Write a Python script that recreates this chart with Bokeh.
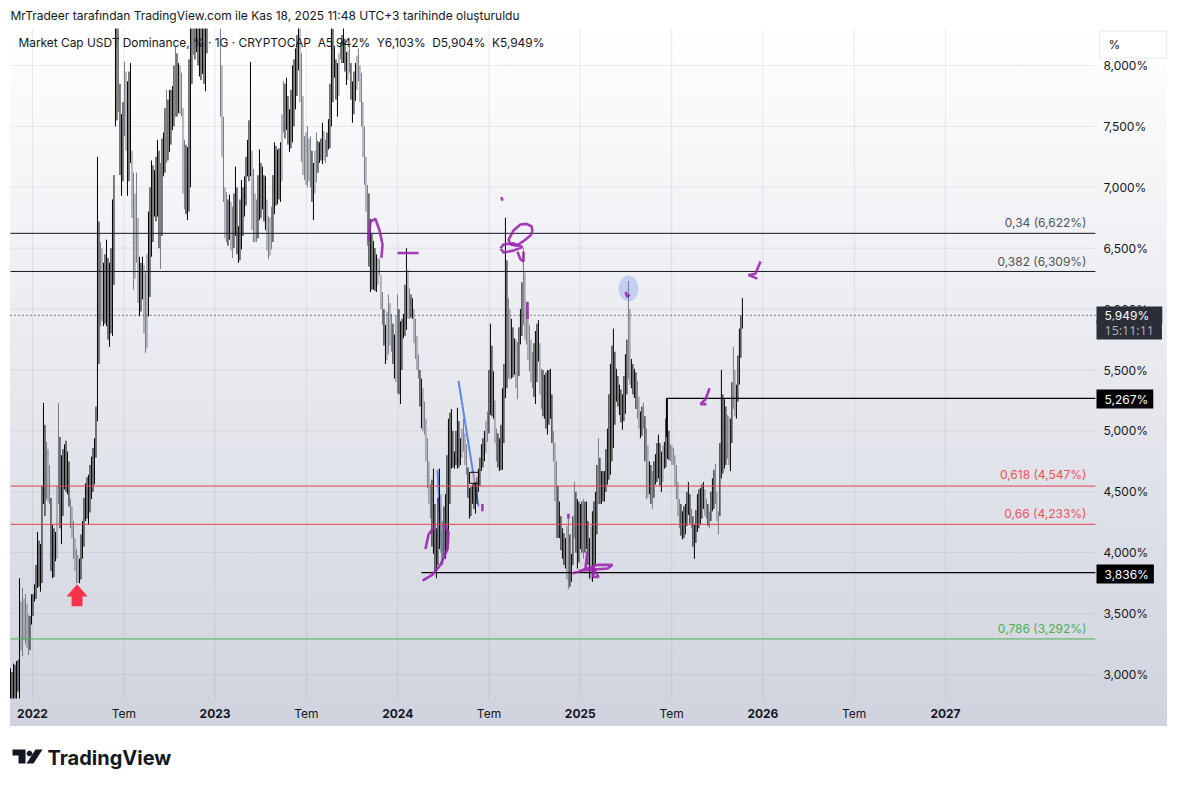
from bokeh.embed import file_html
from bokeh.resources import INLINE
from bokeh.plotting import figure
from bokeh.models import (ColumnDataSource, FixedTicker, Label, LinearAxis, PolyAnnotation, Range1d)

created = "MrTradeer tarafından TradingView.com ile Kas 18, 2025 11:48 UTC+3 tarihinde oluşturuldu"
legend = "Market Cap USDT Dominance, % · 1G · CRYPTOCAP\u00a0\u00a0A5,942%\u00a0\u00a0Y6,103%\u00a0\u00a0D5,904%\u00a0\u00a0K5,949%"

first_bar_year = 2021.8795
bar_step_days = 6
highs = [
 3.05,3.09,3.11,3.79,3.71,3.66,3.49,3.66,3.74,4.17,
 4.07,5.23,4.91,4.72,4.23,4.17,5.23,4.80,4.89,4.83,
 4.44,4.26,4.03,3.95,4.26,4.57,4.64,4.79,4.94,7.25,
 6.55,6.38,6.57,6.38,6.90,8.32,8.32,7.60,8.03,7.87,
 8.02,7.12,7.12,6.43,6.43,6.30,6.80,7.22,7.14,7.39,
 7.20,7.45,7.80,7.80,7.83,8.16,8.02,7.94,7.39,7.33,
 8.32,8.32,8.32,8.32,8.32,8.32,8.42,8.48,8.55,8.50,
 8.32,7.58,6.96,6.94,6.84,7.17,6.68,7.06,7.09,7.39,
 8.03,7.15,6.90,7.31,7.17,7.09,6.76,6.84,7.37,7.31,
 7.37,7.87,7.90,7.64,8.00,8.14,8.32,8.10,7.42,7.50,
 7.42,7.20,7.45,7.37,7.53,7.39,7.56,8.32,8.14,8.02,
 8.19,8.32,8.11,8.16,7.87,8.02,8.14,7.94,7.50,7.02,
 6.74,6.56,6.45,6.41,6.14,5.87,6.12,5.96,5.79,6.12,
 5.90,5.96,6.50,6.17,6.09,5.92,5.63,5.43,5.24,4.94,
 4.56,4.69,4.20,4.69,4.26,4.48,5.10,5.18,4.83,5.19,
 4.94,5.10,4.89,4.53,4.56,4.58,4.69,4.89,5.00,5.16,
 5.88,5.49,5.02,4.94,5.35,6.75,6.09,5.92,5.76,5.73,
 6.00,6.50,6.06,5.87,5.65,5.82,5.91,5.51,5.46,5.50,
 5.51,5.00,4.75,4.42,4.20,4.12,4.31,3.99,4.58,4.44,
 4.40,4.44,4.42,4.12,4.34,4.50,4.94,4.67,4.67,5.02,
 5.55,5.84,5.51,5.38,5.30,5.63,6.23,5.59,5.51,5.41,
 5.16,5.23,5.02,4.75,4.67,4.81,4.97,4.83,4.91,5.26,
 4.89,4.86,4.72,4.44,4.34,4.40,4.58,4.36,4.23,4.48,
 4.53,4.58,4.44,4.34,4.61,4.73,4.34,5.50,5.26,5.13,
 5.10,5.69,5.38,5.84,6.09,
]
lows = [
 2.78,2.78,2.78,2.78,3.15,3.25,3.16,3.41,3.60,3.71,
 3.68,4.40,4.44,4.40,3.79,3.93,4.40,4.07,4.52,4.48,
 4.20,3.95,3.75,3.75,3.95,4.26,4.23,4.44,4.56,5.08,
 5.86,5.86,5.86,5.69,5.78,7.50,7.62,6.93,7.42,6.93,
 7.20,6.16,6.38,5.94,6.08,5.64,5.94,6.43,6.76,6.76,
 6.33,7.09,7.20,7.29,7.47,7.58,7.61,7.58,6.82,6.73,
 7.00,8.09,8.11,7.91,7.93,7.79,8.32,8.35,8.38,8.33,
 7.58,6.88,6.55,6.57,6.42,6.60,6.38,6.49,6.76,7.09,
 7.09,6.55,6.55,6.73,6.82,6.65,6.41,6.49,6.78,6.86,
 6.88,7.45,7.47,7.29,7.37,7.64,7.96,7.21,7.06,7.00,
 7.00,6.73,7.04,7.20,7.19,7.20,7.31,7.50,7.90,7.58,
 8.05,8.02,7.84,7.94,7.53,7.71,7.87,7.50,7.02,6.52,
 6.14,6.16,6.14,6.28,5.87,5.55,5.63,5.65,5.43,5.31,
 5.22,5.76,5.83,5.92,5.92,5.59,5.43,5.02,4.97,4.53,
 4.28,3.99,3.79,4.03,3.95,3.95,4.07,4.69,4.69,4.69,
 4.72,4.83,4.64,4.28,4.40,4.32,4.50,4.67,4.75,4.91,
 5.13,5.10,4.75,4.67,4.68,5.27,5.43,5.43,5.46,5.26,
 5.71,5.87,5.71,5.49,5.35,5.22,5.57,5.18,5.10,4.97,
 5.10,4.75,4.12,4.12,3.95,3.87,3.70,3.76,4.12,3.87,
 4.03,3.95,4.03,3.79,3.76,3.90,4.40,4.40,4.42,4.56,
 4.64,4.86,5.24,5.13,5.01,5.14,5.43,5.35,5.27,5.10,
 4.94,5.02,4.44,4.48,4.36,4.56,4.61,4.50,4.69,4.77,
 4.75,4.72,4.44,4.20,4.11,4.15,4.31,4.20,3.95,4.17,
 4.23,4.36,4.28,4.20,4.34,4.40,4.15,4.61,4.69,4.77,
 4.67,5.18,5.10,5.38,5.84,
]
rising = [
 1,1,1,1,0,0,0,1,1,1, 1,1,0,0,1,1,0,1,1,1, 0,0,0,1,1,1,1,1,1,1,
 0,1,1,1,1,1,0,1,0,1, 1,0,0,1,1,0,1,1,1,1, 0,1,0,1,1,0,1,0,0,1,
 1,0,1,1,1,1,1,1,1,1, 0,0,0,1,0,1,1,1,1,1, 1,0,0,1,1,1,0,0,1,1,
 1,0,1,1,1,1,1,0,0,0, 0,1,0,1,1,0,1,1,1,1, 0,1,1,0,1,1,0,0,0,0,
 1,1,1,0,0,1,0,0,1,0, 1,1,1,0,1,0,0,1,0,0, 0,1,1,1,0,1,1,1,1,1,
 1,0,0,1,1,1,1,1,1,0, 1,1,0,1,1,1,0,1,1,0, 1,0,0,0,0,1,1,0,1,1,
 1,0,0,1,1,1,0,1,0,1, 1,0,1,1,1,1,0,1,1,1, 1,1,1,1,1,1,0,1,1,0,
 1,0,0,1,0,1,1,1,1,1, 0,0,0,0,1,1,1,0,1,1, 1,1,0,0,1,0,0,1,1,0,
 1,0,1,1,1,
]
# the bars in between, three days later than the ones above
mid_highs = [
 3.02,3.08,3.12,3.60,3.62,3.58,3.48,3.66,3.90,4.10,
 4.55,5.05,4.85,4.45,4.20,4.55,4.95,4.85,4.92,4.75,
 4.38,4.12,3.98,4.15,4.45,4.62,4.72,4.86,5.20,6.72,
 6.50,6.45,6.42,6.50,7.10,8.32,7.85,7.70,7.95,7.95,
 7.30,6.95,6.75,6.38,6.36,6.45,7.00,7.18,7.25,7.30,
 7.40,7.65,7.72,7.80,8.00,8.10,8.00,7.65,7.35,8.05,
 8.32,8.32,8.32,8.32,8.32,8.32,8.45,8.50,8.50,8.45,
 8.00,7.00,6.90,6.88,6.95,7.00,6.90,7.00,7.25,7.55,
 7.30,6.95,7.10,7.20,7.10,6.90,6.75,7.10,7.34,7.32,
 7.60,7.85,7.75,7.80,8.05,8.25,8.32,7.75,7.45,7.40,
 7.30,7.30,7.38,7.40,7.46,7.45,7.85,8.30,8.05,8.10,
 8.25,8.22,8.12,8.02,7.95,8.08,8.00,7.70,7.25,6.95,
 6.62,6.50,6.42,6.28,6.00,5.98,6.05,5.88,5.95,6.00,
 5.92,6.20,6.32,6.12,6.00,5.78,5.50,5.35,5.10,4.75,
 4.60,4.40,4.45,4.48,4.38,4.80,5.15,5.00,5.00,5.08,
 5.02,4.98,4.70,4.54,4.57,4.62,4.78,4.94,5.08,5.50,
 5.70,5.25,4.98,5.05,5.55,6.40,6.00,5.85,5.75,5.85,
 6.22,6.30,5.98,5.75,5.72,5.88,5.72,5.50,5.48,5.50,
 5.30,4.90,4.55,4.30,4.16,4.22,4.15,4.30,4.50,4.42,
 4.42,4.42,4.26,4.22,4.42,4.72,4.78,4.67,4.85,5.30,
 5.70,5.65,5.45,5.34,5.45,5.75,6.00,5.55,5.48,5.28,
 5.20,5.12,4.88,4.72,4.75,4.90,4.90,4.88,5.10,5.00,
 4.88,4.80,4.58,4.40,4.38,4.50,4.48,4.30,4.35,4.52,
 4.56,4.52,4.40,4.50,4.68,4.50,4.90,5.30,5.20,5.12,
 5.40,5.50,5.62,5.95,
]
mid_lows = [
 2.78,2.78,2.86,3.20,3.28,3.22,3.20,3.48,3.62,3.72,
 3.75,4.30,4.42,3.85,3.80,3.95,4.20,4.30,4.50,4.38,
 4.12,3.85,3.75,3.78,4.05,4.28,4.33,4.50,4.78,5.55,
 5.90,5.88,5.75,5.80,6.20,7.55,7.10,7.05,7.30,7.05,
 6.75,6.25,6.05,5.98,5.80,5.68,6.10,6.55,6.72,6.50,
 6.60,7.12,7.22,7.35,7.50,7.58,7.60,6.95,6.78,6.80,
 7.85,8.05,8.00,7.88,7.85,8.10,8.36,8.36,8.36,8.34,
 7.25,6.58,6.52,6.48,6.50,6.45,6.40,6.60,6.85,7.05,
 6.65,6.55,6.58,6.75,6.72,6.48,6.44,6.55,6.85,6.90,
 7.05,7.40,7.35,7.32,7.50,7.75,7.70,7.10,7.02,7.05,
 6.88,6.95,7.12,7.22,7.22,7.25,7.32,7.70,7.72,7.75,
 8.02,7.95,7.88,7.72,7.60,7.80,7.70,7.25,6.80,6.35,
 6.16,6.15,6.20,6.00,5.70,5.58,5.70,5.55,5.40,5.30,
 5.50,5.78,5.92,5.93,5.72,5.50,5.20,5.00,4.75,4.40,
 4.05,3.85,3.90,4.00,3.98,4.02,4.40,4.70,4.72,4.70,
 4.78,4.72,4.45,4.30,4.36,4.40,4.55,4.70,4.82,4.98,
 5.12,4.90,4.70,4.68,4.90,5.35,5.42,5.44,5.35,5.45,
 5.78,5.75,5.58,5.40,5.28,5.40,5.30,5.12,5.02,5.05,
 4.90,4.42,4.12,4.02,3.90,3.78,3.72,3.90,4.00,3.92,
 4.00,4.00,3.90,3.78,3.82,4.15,4.40,4.42,4.50,4.60,
 4.75,5.05,5.20,5.07,5.08,5.30,5.38,5.30,5.18,5.02,
 4.96,4.75,4.45,4.40,4.45,4.58,4.55,4.58,4.70,4.76,
 4.72,4.55,4.30,4.14,4.12,4.22,4.24,4.05,4.08,4.20,
 4.28,4.30,4.22,4.26,4.36,4.26,4.30,4.65,4.72,4.72,
 4.90,5.12,5.24,5.60,
]
mid_rising = [
 1,1,1,0,0,0,1,1,1,1, 1,1,0,1,1,0,1,1,1,1, 0,0,0,1,1,1,1,1,1,1,
 0,1,1,1,1,1,1,1,0,1, 0,0,0,1,0,0,1,1,1,1, 1,1,1,1,1,1,0,0,1,1,
 1,1,1,1,1,1,1,1,1,1, 0,0,1,0,1,1,1,1,1,1, 0,0,1,1,1,0,0,1,1,1,
 0,1,1,1,1,1,0,0,0,0, 1,0,1,1,0,1,1,1,1,0, 1,1,0,1,1,0,0,0,0,1,
 1,1,0,0,1,0,0,1,0,1, 1,1,0,1,0,0,1,0,0,0, 1,1,1,0,1,1,1,1,1,1,
 0,0,1,1,1,1,1,1,0,1, 1,0,1,1,1,1,0,1,0,1, 1,0,0,0,1,1,0,1,1,1,
 1,0,1,1,1,0,1,1,1,1, 1,1,1,0,1,1,1,1,1,1, 1,1,1,1,1,1,0,1,1,0,
 1,1,0,1,1,1,1,0,1,1, 0,0,0,1,1,1,1,1,1,1, 1,0,1,1,1,0,1,1,1,0,
 1,0,1,1,
]

year_ticks = [2022, 2023, 2024, 2025, 2026, 2027]
year_labels = ["2022", "2023", "2024", "2025", "2026", "2027"]
july_ticks = [2022.5, 2023.5, 2024.5, 2025.5, 2026.5]
july_label = "Tem"
pct_ticks = [3.0, 3.5, 4.0, 4.5, 5.0, 5.5, 6.0, 6.5, 7.0, 7.5, 8.0]
pct_labels = ["3,000%", "3,500%", "4,000%", "4,500%", "5,000%", "5,500%", "6,000%", "6,500%", "7,000%", "7,500%", "8,000%"]

fib_values = [6.622, 6.309, 4.547, 4.233, 3.292]
fib_names = ["0,34 (6,622%)", "0,382 (6,309%)", "0,618 (4,547%)", "0,66 (4,233%)", "0,786 (3,292%)"]
fib_colors = ["#131722", "#131722", "#e2404e", "#e2404e", "#4caf50"]
fib_text_colors = ["#50535e", "#50535e", "#f0505c", "#f0505c", "#4caf50"]
last_price = 5.949
ray_starts = [2025.472, 2024.130]
ray_levels = [5.267, 3.836]

blue_lines_x = [[2024.333, 2024.4425], [2024.218, 2024.2453]]
blue_lines_y = [[5.41, 4.38], [4.68, 3.90]]
purple_x = [
 [2023.840, 2023.851, 2023.878, 2023.900, 2023.917, 2023.911],
 [2023.999, 2024.114],
 [2024.568, 2024.574],
 [2024.738, 2024.733, 2024.705, 2024.672, 2024.634, 2024.607, 2024.618, 2024.651, 2024.695, 2024.727, 2024.738],
 [2024.563, 2024.579, 2024.634, 2024.683, 2024.634, 2024.579, 2024.563],
 [2024.656, 2024.672, 2024.689, 2024.689],
 [2024.711, 2024.711],
 [2024.464, 2024.464],
 [2024.136, 2024.191, 2024.234, 2024.273, 2024.278, 2024.251],
 [2024.152, 2024.169, 2024.202],
 [2024.935, 2024.935],
 [2024.957, 2025.017, 2025.094, 2025.176, 2025.149, 2025.056, 2024.990],
 [2025.039, 2025.028],
 [2025.067, 2025.100, 2025.072, 2025.067],
 [2025.248, 2025.258, 2025.269],
 [2025.708, 2025.686, 2025.658, 2025.691],
 [2025.987, 2025.959, 2025.921, 2025.970],
]
purple_y = [
 [6.56, 6.72, 6.74, 6.65, 6.53, 6.42],
 [6.46, 6.46],
 [6.92, 6.89],
 [6.64, 6.68, 6.70, 6.695, 6.645, 6.57, 6.53, 6.52, 6.565, 6.605, 6.64],
 [6.50, 6.53, 6.54, 6.51, 6.48, 6.465, 6.50],
 [6.47, 6.41, 6.39, 6.47],
 [6.06, 5.92],
 [4.40, 4.34],
 [3.77, 3.82, 3.90, 4.03, 4.17, 4.23],
 [4.03, 4.15, 4.215],
 [4.32, 4.28],
 [3.83, 3.86, 3.90, 3.90, 3.87, 3.86, 3.85],
 [4.01, 3.87],
 [3.89, 3.80, 3.80, 3.85],
 [6.14, 6.10, 6.12],
 [5.35, 5.26, 5.22, 5.22],
 [6.39, 6.29, 6.28, 6.25],
]
arrow_x = [2022.244, 2022.3015, 2022.274, 2022.274, 2022.214, 2022.214, 2022.1865]
arrow_y = [3.74, 3.64, 3.64, 3.56, 3.56, 3.64, 3.64]

assert len(highs) == len(lows) == len(rising), (len(highs), len(lows), len(rising))
assert len(mid_highs) == len(mid_lows) == len(mid_rising), (len(mid_highs), len(mid_lows), len(mid_rising))

# The plot frame fills the whole canvas, so that every text can be drawn inside it.
WIDTH, HEIGHT = 1169, 779
view_left, view_right, view_bottom, view_top = 2021.8795, 2027.821, 2.803, 8.3038
FONT = "Inter"
INK = "#131722"

p = figure(
    width=WIDTH, height=HEIGHT, output_backend="svg", toolbar_location=None,
    x_range=Range1d(2021.8248, 2028.2267), y_range=Range1d(2.1379, 8.5337),
    y_axis_location="right", tools="",
    min_border_left=0, min_border_right=0, min_border_top=0, min_border_bottom=0,
    outline_line_color=None, background_fill_alpha=0, border_fill_alpha=0,
    styles={
        "background-image": "linear-gradient(to bottom, #ffffff, #d0d3de)",
        "background-repeat": "no-repeat",
        "background-size": "1157px 698px",
        "background-position": "10px 28px",
    },
)
p.grid.visible = False

# axes
year_axis = p.xaxis[0]
price_axis = p.yaxis[0]
july_axis = LinearAxis()
p.add_layout(july_axis, "below")
price_axis.ticker = FixedTicker(ticks=pct_ticks)
price_axis.major_label_overrides = dict(zip(pct_ticks, pct_labels))
price_axis.fixed_location = view_right
year_axis.ticker = FixedTicker(ticks=year_ticks)
year_axis.major_label_overrides = dict(zip(year_ticks, year_labels))
year_axis.fixed_location = view_bottom
july_axis.ticker = FixedTicker(ticks=july_ticks)
july_axis.major_label_overrides = {t: july_label for t in july_ticks}
july_axis.fixed_location = view_bottom
for ax in (year_axis, july_axis, price_axis):
    ax.axis_line_color = None
    ax.major_tick_line_color = None
    ax.minor_tick_line_color = None
    ax.major_tick_out = 0
    ax.major_tick_in = 0
    ax.major_label_text_font = FONT
    ax.major_label_text_font_size = "12px"
    ax.major_label_text_color = INK
year_axis.major_label_text_font_style = "bold"
year_axis.major_label_standoff = 11
july_axis.major_label_standoff = 8
price_axis.major_label_standoff = 8

# grid lines, which stop at the edges of the chart pane
vt = year_ticks + july_ticks
p.segment(x0=vt, x1=vt, y0=[view_bottom] * len(vt), y1=[view_top] * len(vt), line_color="#787b96", line_alpha=0.14, line_width=1)
p.segment(x0=[view_left] * len(pct_ticks), x1=[view_right] * len(pct_ticks), y0=pct_ticks, y1=pct_ticks, line_color="#787b96", line_alpha=0.14, line_width=1)

# blue highlight, drawn behind the bars
p.ellipse(x=[2025.264], y=[6.17], width=0.11, height=0.213, fill_color="#5f85ee", fill_alpha=0.3, line_color=None)
p.multi_line(blue_lines_x, blue_lines_y, line_color="#5f86e6", line_width=2)

# price bars, cut at the edges of the pane
step = bar_step_days / 365.25
bar_x = [first_bar_year + i * step for i in range(len(highs))]
mid_x = [first_bar_year + (i + 0.5) * step for i in range(len(mid_highs))]
for xs, hi, lo, flags in ((mid_x, mid_highs, mid_lows, mid_rising), (bar_x, highs, lows, rising)):
    shown = [i for i in range(len(xs)) if lo[i] < view_top]
    src = ColumnDataSource(dict(
        x=[xs[i] for i in shown],
        high=[min(hi[i], view_top) for i in shown],
        low=[max(lo[i], view_bottom) for i in shown],
        color=["#000000" if flags[i] else "#787b86" for i in shown],
    ))
    p.segment(x0="x", x1="x", y0="low", y1="high", line_color="color", line_width=1, source=src)

# levels
for v, c in zip(fib_values, fib_colors):
    p.segment(x0=[view_left], x1=[view_right], y0=[v], y1=[v], line_color=c, line_width=1)
last_line = p.segment(x0=[view_left], x1=[view_right], y0=[last_price], y1=[last_price], line_color="#131722", line_width=1)
last_line.glyph.line_dash = [1, 3]
for s, v in zip(ray_starts, ray_levels):
    p.segment(x0=[s], x1=[view_right], y0=[v], y1=[v], line_color="#000000", line_width=1.2)
p.segment(x0=[ray_starts[0]], x1=[ray_starts[0]], y0=[4.95], y1=[ray_levels[0]], line_color="#000000", line_width=1.2)

# hand annotations
p.quad(left=[2024.393], right=[2024.4425], top=[4.66], bottom=[4.57], fill_color="#f6a8b8", fill_alpha=0.35, line_color="#000000", line_width=1)
p.multi_line(purple_x, purple_y, line_color="#9c27b0", line_width=2.6, line_alpha=0.9)
p.patch(arrow_x, arrow_y, fill_color="#f7334a", line_color=None)

def page_text(px, py, s, **kw):
    args = dict(text_font=FONT, text_font_size="12px", text_color=INK, text_baseline="middle")
    args.update(kw)
    p.add_layout(Label(x=px, y=HEIGHT - py, text=s, x_units="screen", y_units="screen", **args))

for py, name, col in zip([222, 261, 474, 513, 628], fib_names, fib_text_colors):
    page_text(1086, py, name, text_color=col, text_align="right")

page_text(10, 15, created)
page_text(18, 42, legend, text_font_size="11.9px")
page_text(47, 757, "TradingView", text_font_size="20px", text_font_style="bold")

# price tags on the axis; padding here reads (left, right, top, bottom)
page_text(1096, 398.5, "5,267%", text_color="#ffffff", background_fill_color="#000000", padding=(8, 5, 2, 2))
page_text(1096, 573.5, "3,836%", text_color="#ffffff", background_fill_color="#000000", padding=(8, 5, 2, 2))
page_text(1096, 314.5, "5,949%", text_color="#ffffff", background_fill_color="#2a2e39", padding=(8, 13, 1, 1))
page_text(1096, 329.5, "15:11:11", text_color="#b2b5be", text_font="Open Sans", text_font_size="12.5px", background_fill_color="#2a2e39", padding=(8, 8, 1, 1))
page_text(1099, 44, "%", background_fill_color="#ffffff", border_line_color="#e6e8ee", padding=(9, 46, 6, 6))

# logo
for xs, ys in [
    ([12, 25, 25, 18, 18, 12], [749, 749, 763, 763, 755, 755]),
    ([35, 42, 33, 26], [749, 749, 763, 763]),
    ([32, 31, 29, 27, 26, 27, 29, 31], [753, 751, 750, 751, 753, 755, 756, 755]),
]:
    p.add_layout(PolyAnnotation(xs=xs, ys=[HEIGHT - v for v in ys],
                                xs_units="screen", ys_units="screen",
                                fill_color="#131722", fill_alpha=1, line_color=None))

open("out.html", "w").write(file_html(p, INLINE))
